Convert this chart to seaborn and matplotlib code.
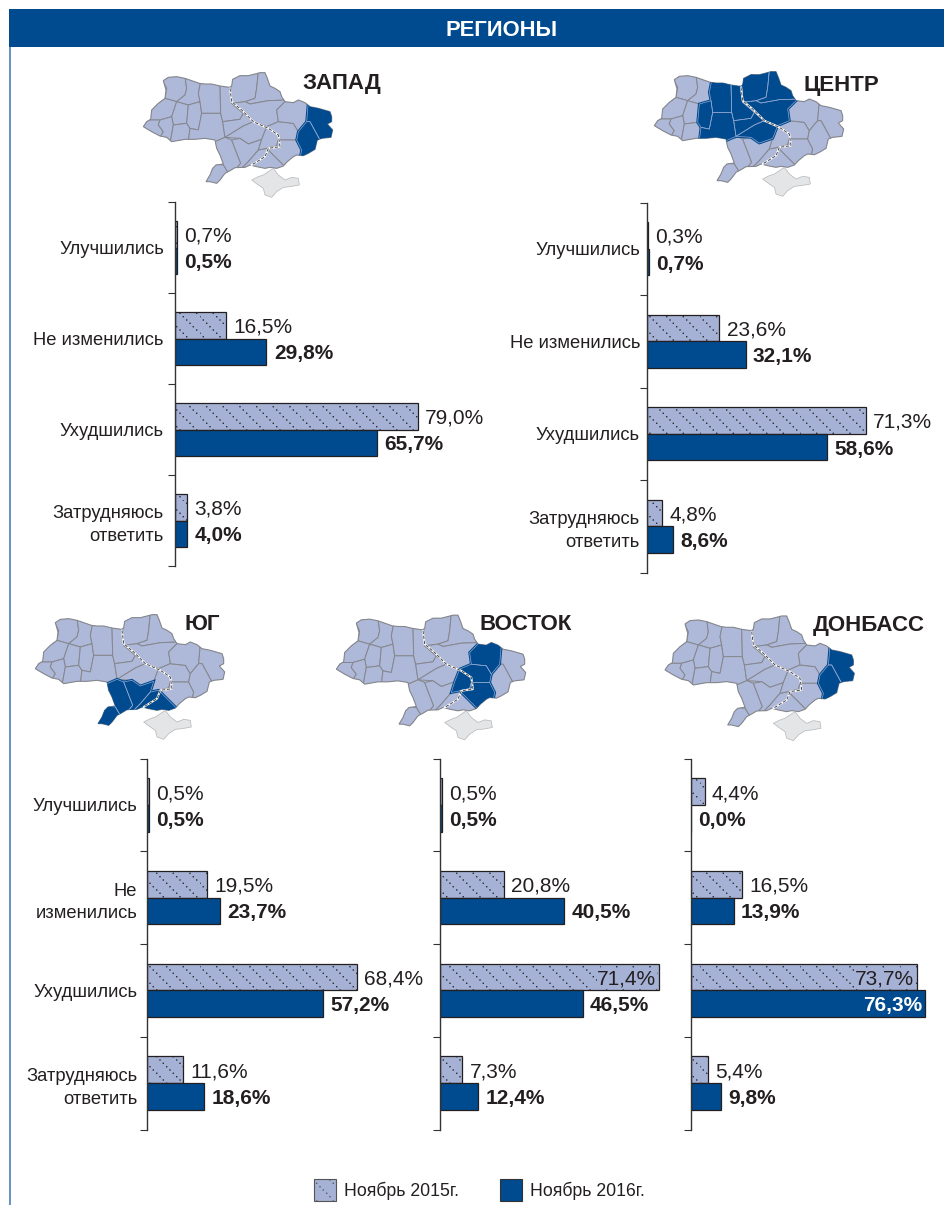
import numpy as np
import pandas as pd
import matplotlib
matplotlib.use('Agg')
import matplotlib.pyplot as plt
import matplotlib.hatch as mhatch
from matplotlib.lines import Line2D
from matplotlib.patches import Patch, Polygon, Rectangle
from matplotlib.path import Path
import seaborn as sns

# Chart data
periods = ['Ноябрь 2015г.', 'Ноябрь 2016г.']
categories = ['Улучшились', 'Не изменились', 'Ухудшились', 'Затрудняюсь ответить']
zapad_2015 = [0.7, 16.5, 79.0, 3.8]
zapad_2016 = [0.5, 29.8, 65.7, 4.0]
centr_2015 = [0.3, 23.6, 71.3, 4.8]
centr_2016 = [0.7, 32.1, 58.6, 8.6]
yug_2015 = [0.5, 19.5, 68.4, 11.6]
yug_2016 = [0.5, 23.7, 57.2, 18.6]
vostok_2015 = [0.5, 20.8, 71.4, 7.3]
vostok_2016 = [0.5, 40.5, 46.5, 12.4]
donbass_2015 = [4.4, 16.5, 73.7, 5.4]
donbass_2016 = [0.0, 13.9, 76.3, 9.8]
labels_wide = ['Улучшились', 'Не изменились', 'Ухудшились', 'Затрудняюсь\nответить']
labels_yug = ['Улучшились', 'Не\nизменились', 'Ухудшились', 'Затрудняюсь\nответить']

LIGHT = '#a6b2d5'
DARK = '#004a8f'
INK = '#231f20'
PX_PER_UNIT = 3.07

# Map thumbnail shapes, traced in zoomed pixels
OUTLINE = [(100,62),(115,52),(140,50),(165,55),(185,62),(208,70),(225,72),(245,72),(270,78),(298,82),(305,78),
           (308,58),(330,47),(355,47),(375,42),(390,38),(405,38),(412,55),(420,78),(435,85),(450,95),(455,110),
           (465,125),(490,128),(505,120),(525,128),(540,140),(565,145),(600,155),(605,170),(605,185),(592,192),
           (608,210),(603,232),(575,235),(562,240),(555,268),(535,280),(520,287),(500,285),(490,290),(472,305),
           (460,318),(440,325),(420,322),(405,325),(380,320),(360,315),(345,322),(315,323),(300,332),(285,340),
           (270,360),(260,370),(240,365),(228,365),(240,345),(248,325),(258,315),(280,312),(270,285),(260,265),
           (255,240),(225,235),(195,238),(165,238),(125,245),(110,232),(90,228),(65,215),(40,200),(50,185),
           (62,178),(65,150),(85,130),(105,115),(108,90)]
OBLASTS = {
    'volyn': [(95,55),(130,45),(165,50),(170,85),(165,105),(140,125),(105,115),(110,85)],
    'rivne': [(165,50),(212,65),(205,100),(210,125),(175,135),(140,125),(165,105),(170,85)],
    'lviv': [(105,115),(140,125),(125,170),(90,180),(55,180),(60,145)],
    'ternopil': [(140,125),(175,135),(170,190),(130,195),(125,170)],
    'zakarpattia': [(35,200),(55,180),(90,180),(85,195),(100,215),(90,232)],
    'frankivsk': [(90,180),(125,170),(130,195),(120,250),(90,232),(100,215),(85,195)],
    'chernivtsi': [(130,195),(170,190),(180,205),(175,245),(120,250)],
    'khmelnytsky': [(175,135),(210,125),(215,160),(205,210),(180,205),(170,190)],
    'zhytomyr': [(210,125),(205,100),(212,65),(270,72),(272,160),(215,160)],
    'vinnytsia': [(215,160),(272,160),(278,185),(285,232),(255,245),(175,245),(180,205),(205,210)],
    'kyiv': [(270,72),(302,78),(305,130),(340,160),(330,178),(278,185),(272,160)],
    'chernihiv': [(302,78),(305,50),(345,40),(385,33),(380,85),(375,115),(345,125),(305,130)],
    'sumy': [(385,33),(410,33),(425,75),(455,90),(470,120),(415,122),(360,132),(345,125),(375,115),(380,85)],
    'poltava': [(345,125),(360,132),(415,122),(470,120),(440,150),(445,185),(410,200),(370,185),(340,160),(305,130)],
    'cherkasy': [(278,185),(330,178),(340,160),(370,185),(340,198),(285,232)],
    'kirovohrad': [(285,232),(340,198),(370,185),(410,200),(395,238),(355,252),(330,235)],
    'odesa': [(255,245),(285,232),(305,240),(332,310),(315,330),(295,340),(280,315),(255,265)],
    'odesa_south': [(250,312),(280,315),(295,340),(280,350),(260,375),(222,370),(240,335)],
    'mykolaiv': [(305,240),(330,235),(355,252),(395,238),(385,270),(355,305),(335,325),(315,330),(332,310)],
    'kherson': [(385,270),(410,265),(445,300),(465,320),(440,330),(405,330),(360,320),(335,325),(355,305)],
    'dnipro': [(410,200),(445,185),(490,190),(505,215),(500,240),(445,240),(440,258),(410,265),(385,270),(395,238)],
    'zaporizhzhia': [(410,265),(440,258),(445,240),(500,240),(515,270),(510,295),(490,295),(465,320),(445,300)],
    'kharkiv': [(470,120),(505,115),(535,125),(530,185),(505,215),(490,190),(445,185),(440,150)],
    'luhansk': [(535,125),(570,140),(610,150),(615,240),(570,240),(540,185),(530,185)],
    'donetsk': [(530,185),(540,185),(570,240),(560,275),(520,292),(510,295),(515,270),(500,240),(505,215)],
}
CRIMEA = [(365,360),(385,350),(400,345),(415,335),(430,325),(445,345),(465,360),(485,352),(505,355),(508,375),
          (480,380),(460,382),(440,395),(425,412),(405,405),(400,385),(385,375)]
DNIEPER = [(300,85),(305,125),(335,150),(370,185),(415,205),(445,225),(450,260),(415,265),(405,290),(365,315)]


# Sparse dotted diagonal hatch, matplotlib has no such pattern
class DottedDiagonal(mhatch.HatchPatternBase):
    lines = 6
    rows = 30
    dot = 0.006
    filled = True

    def __init__(self, hatch, density):
        self.num_vertices = 5 * self.lines * self.rows if '.' in hatch else 0

    def set_vertices_and_codes(self, vertices, codes):
        i = 0
        for line in range(self.lines):
            for row in range(self.rows):
                x = (line / self.lines + row / self.rows) % 1
                y = 1 - row / self.rows
                d = self.dot
                vertices[i:i + 5] = [(x - d, y - d), (x + d, y - d), (x + d, y + d), (x - d, y + d), (x - d, y - d)]
                codes[i:i + 5] = [Path.MOVETO, Path.LINETO, Path.LINETO, Path.LINETO, Path.CLOSEPOLY]
                i += 5


mhatch._hatch_types[:] = [DottedDiagonal]

sns.set_theme(style='white')
plt.rcParams['font.family'] = ['Liberation Sans', 'DejaVu Sans']
plt.rcParams['hatch.linewidth'] = 0.1

W, H = 945, 1205
fig = plt.figure(figsize=(W / 100, H / 100), dpi=100)

# Overlay in pixel coordinates for header and maps
bg = fig.add_axes([0, 0, 1, 1])
bg.set_xlim(0, W)
bg.set_ylim(H, 0)
bg.axis('off')
bg.add_patch(Rectangle((9, 9), 936, 38, color=DARK, lw=0))
bg.add_patch(Rectangle((9, 47), 2, H - 47, color='#6a94c4', lw=0))
bg.text(502, 30, 'РЕГИОНЫ', color='white', fontsize=15.8, fontweight='bold', ha='center', va='center')


def draw_map(x0, y0, highlight):
    def pts(shape):
        return [(x0 + x / 3, y0 + y / 3) for x, y in shape]
    base = Polygon(pts(OUTLINE), fc='#aeb8d9', ec='none')
    bg.add_patch(base)
    for name, shape in OBLASTS.items():
        if name not in highlight:
            p = Polygon(pts(shape), fc='#aeb8d9', ec='#85878c', lw=0.7)
            bg.add_patch(p)
            p.set_clip_path(base)
    bg.add_patch(Polygon(pts(OUTLINE), fc='none', ec='#85878c', lw=0.8))
    for name in highlight:
        p = Polygon(pts(OBLASTS[name]), fc=DARK, ec=DARK, lw=2)
        bg.add_patch(p)
        p.set_clip_path(base)
    for name in highlight:
        p = Polygon(pts(OBLASTS[name]), fc='none', ec='#8ea6cf', lw=0.5)
        bg.add_patch(p)
        p.set_clip_path(base)
    bg.add_patch(Polygon(pts(CRIMEA), fc='#e4e5e7', ec='#b5b6b8', lw=0.5))
    river = np.array(pts(DNIEPER))
    bg.add_line(Line2D(river[:, 0], river[:, 1], color='white', lw=1.4))
    bg.add_line(Line2D(river[:, 0], river[:, 1], color='#333333', lw=0.6, dashes=(4, 2)))


WEST_HL = ['luhansk', 'donetsk']
CENTER_HL = ['khmelnytsky', 'zhytomyr', 'vinnytsia', 'kyiv', 'chernihiv', 'sumy', 'poltava', 'cherkasy', 'kirovohrad']
SOUTH_HL = ['odesa', 'odesa_south', 'mykolaiv', 'kherson']
EAST_HL = ['kharkiv', 'dnipro', 'zaporizhzhia']

draw_map(130, 60, WEST_HL)
draw_map(641, 59, CENTER_HL)
draw_map(22, 602, SOUTH_HL)
draw_map(323, 602.5, EAST_HL)
draw_map(651.7, 603.3, WEST_HL)

for name, x, y in [('ЗАПАД', 342, 84), ('ЦЕНТР', 841, 85), ('ЮГ', 202, 625),
                   ('ВОСТОК', 526, 625), ('ДОНБАСС', 869, 625)]:
    bg.text(x, y, name, color=INK, fontsize=16, fontweight='bold', ha='center', va='center')

# name, 2015, 2016, labels, axis x, axis top, axis bottom, label pad
panels = [
    ('ЗАПАД', zapad_2015, zapad_2016, labels_wide, 175, 202, 566, 8),
    ('ЦЕНТР', centr_2015, centr_2016, labels_wide, 647, 202.5, 572.5, 5),
    ('ЮГ', yug_2015, yug_2016, labels_yug, 147, 758.5, 1129.5, 7),
    ('ВОСТОК', vostok_2015, vostok_2016, None, 440, 758.5, 1129.5, 7),
    ('ДОНБАСС', donbass_2015, donbass_2016, None, 691, 758.5, 1129.5, 7),
]
inside = {('ВОСТОК', 71.4), ('ДОНБАСС', 73.7), ('ДОНБАСС', 76.3)}

for name, v2015, v2016, labels, ax_x, top, bottom, pad in panels:
    xmax = 80
    ax = fig.add_axes([ax_x / W, 1 - bottom / H, xmax * PX_PER_UNIT / W, (bottom - top) / H])
    ax.patch.set_alpha(0)
    df = pd.DataFrame({
        'category': categories * 2,
        'value': v2015 + v2016,
        'period': [periods[0]] * 4 + [periods[1]] * 4,
    })
    sns.barplot(data=df, x='value', y='category', hue='period', hue_order=periods, order=categories,
                palette=[LIGHT, DARK], saturation=1, width=0.575, orient='h', legend=False,
                edgecolor=INK, linewidth=0.9, ax=ax)
    for bar in ax.containers[0]:
        bar.set_hatch('.')
    ax.set_xlim(0, xmax)
    ax.set_ylim(3.5, -0.5)
    ax.set_xlabel('')
    ax.set_ylabel('')
    ax.set_xticks([])
    sns.despine(ax=ax, top=True, right=True, bottom=True)
    ax.spines['left'].set_color('#333333')
    ax.spines['left'].set_linewidth(1.0)
    ax.set_yticks([-0.5, 0.5, 1.5, 2.5, 3.5], minor=True)
    ax.tick_params(axis='y', which='minor', left=True, length=5, width=0.8, color='#333333')
    ax.tick_params(axis='y', which='major', left=False, length=0, pad=pad)
    if labels:
        ax.set_yticks(range(4))
        ax.set_yticklabels(labels, fontsize=13.2, color=INK, linespacing=1.45)
    else:
        ax.set_yticks([])

    # Value labels
    for container, values, weight in [(ax.containers[0], v2015, 'normal'), (ax.containers[1], v2016, 'bold')]:
        for bar, v in zip(container, values):
            text = f'{v:.1f}%'.replace('.', ',')
            yc = bar.get_y() + bar.get_height() / 2
            if (name, v) in inside:
                color = 'white' if weight == 'bold' else INK
                box = dict(fc=LIGHT, ec='none', pad=0.5) if weight == 'normal' else None
                ax.annotate(text, (v, yc), xytext=(-2, 0), textcoords='offset points', ha='right',
                            va='center_baseline', fontsize=15, fontweight=weight, color=color, bbox=box)
            else:
                ax.annotate(text, (v, yc), xytext=(5.3, 0), textcoords='offset points', ha='left',
                            va='center_baseline', fontsize=15, fontweight=weight, color=INK)

handles = [Patch(fc=LIGHT, ec='#555555', lw=0.8, hatch='.', label=periods[0]),
           Patch(fc=DARK, ec='#333333', lw=0.8, label=periods[1])]
fig.legend(handles=handles, loc='lower left', bbox_to_anchor=(314 / W, 4 / H), ncol=2, frameon=False,
           borderpad=0, borderaxespad=0, handlelength=1.25, handleheight=1.55, handletextpad=0.45,
           columnspacing=2.3, labelcolor=INK, prop={'size': 12.7})

fig.savefig('out.png', dpi=100)
